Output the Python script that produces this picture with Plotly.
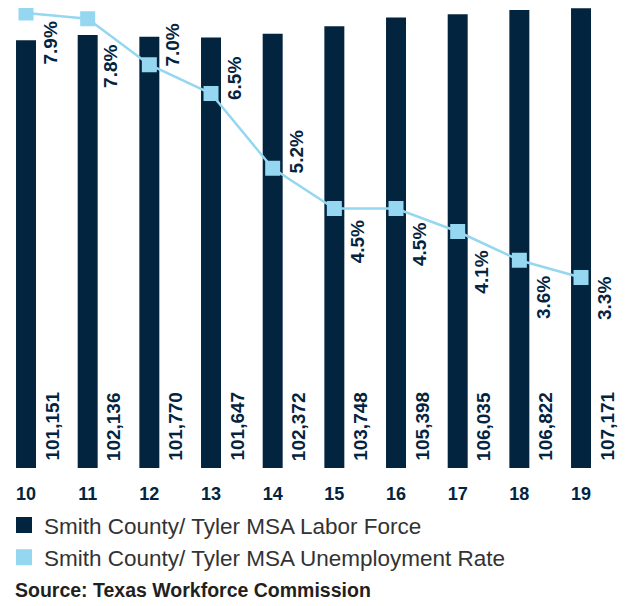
import plotly.graph_objects as go

years = ["10", "11", "12", "13", "14", "15", "16", "17", "18", "19"]
labor_force = [101151, 102136, 101770, 101647, 102372, 103748, 105398, 106035, 106822, 107171]
unemployment = [7.9, 7.8, 7.0, 6.5, 5.2, 4.5, 4.5, 4.1, 3.6, 3.3]

# label nudges for the rotated % labels (px, + = up)
pct_shift = [-30, -48, 20, 15, 16, -33, -36, -41, -37, -21]

NAVY = "#03243f"
LIGHT = "#95d7f0"
FONT = "Liberation Sans"

fig = go.Figure()

fig.add_trace(go.Bar(
    x=years, y=labor_force,
    marker=dict(color=NAVY, line=dict(width=0)),
    width=0.324,
    showlegend=False,
))

fig.add_trace(go.Scatter(
    x=years, y=unemployment, yaxis="y2",
    mode="lines+markers",
    line=dict(color=LIGHT, width=2.5),
    marker=dict(symbol="square", size=15, color=LIGHT),
    cliponaxis=False,
    showlegend=False,
))

# legend-only entries (square swatches)
fig.add_trace(go.Scatter(x=[None], y=[None], mode="markers",
                         marker=dict(symbol="square", size=19, color=NAVY),
                         name="Smith County/ Tyler MSA Labor Force"))
fig.add_trace(go.Scatter(x=[None], y=[None], mode="markers",
                         marker=dict(symbol="square", size=19, color=LIGHT),
                         name="Smith County/ Tyler MSA Unemployment Rate"))

annotations = []
# category axis -> annotations use the category index
for i, v in enumerate(labor_force):
    annotations.append(dict(
        x=i, y=0, xref="x", yref="paper", text=f"{v:,}",
        textangle=-90, xanchor="center", yanchor="bottom",
        xshift=26, yshift=5, showarrow=False,
        font=dict(family=FONT, size=19, color=NAVY, weight="bold"),
    ))
for i, (v, s) in enumerate(zip(unemployment, pct_shift)):
    annotations.append(dict(
        x=i, y=v, xref="x", yref="y2", text=f"{v:.1f}%",
        textangle=-90, xanchor="center", yanchor="middle",
        xshift=23.5, yshift=s, showarrow=False,
        font=dict(family=FONT, size=19, color=NAVY, weight="bold"),
    ))
annotations.append(dict(
    x=0.008, y=-0.265, xref="paper", yref="paper", yanchor="middle", xanchor="left",
    text="Source: Texas Workforce Commission", showarrow=False,
    font=dict(family=FONT, size=19.5, color="#231f20", weight="bold"),
))

fig.update_layout(
    width=621, height=598,
    margin=dict(l=0, r=0, t=0, b=138, autoexpand=False),
    paper_bgcolor="white", plot_bgcolor="white",
    barmode="overlay",
    xaxis=dict(type="category", range=[-0.292, 9.778], showgrid=False,
               showline=False, zeroline=False, ticks="", ticklabelstandoff=13,
               tickfont=dict(family=FONT, size=18, color=NAVY, weight="bold")),
    yaxis=dict(range=[20633, 107200], visible=False),
    yaxis2=dict(range=[-0.013, 7.987], overlaying="y", visible=False),
    legend=dict(x=-0.0064, y=-0.078, xanchor="left", yanchor="top",
                orientation="v", bgcolor="rgba(0,0,0,0)",
                font=dict(family=FONT, size=22.5, color="#333333"),
                tracegroupgap=0),
    annotations=annotations,
)

fig.write_html("out.html")
